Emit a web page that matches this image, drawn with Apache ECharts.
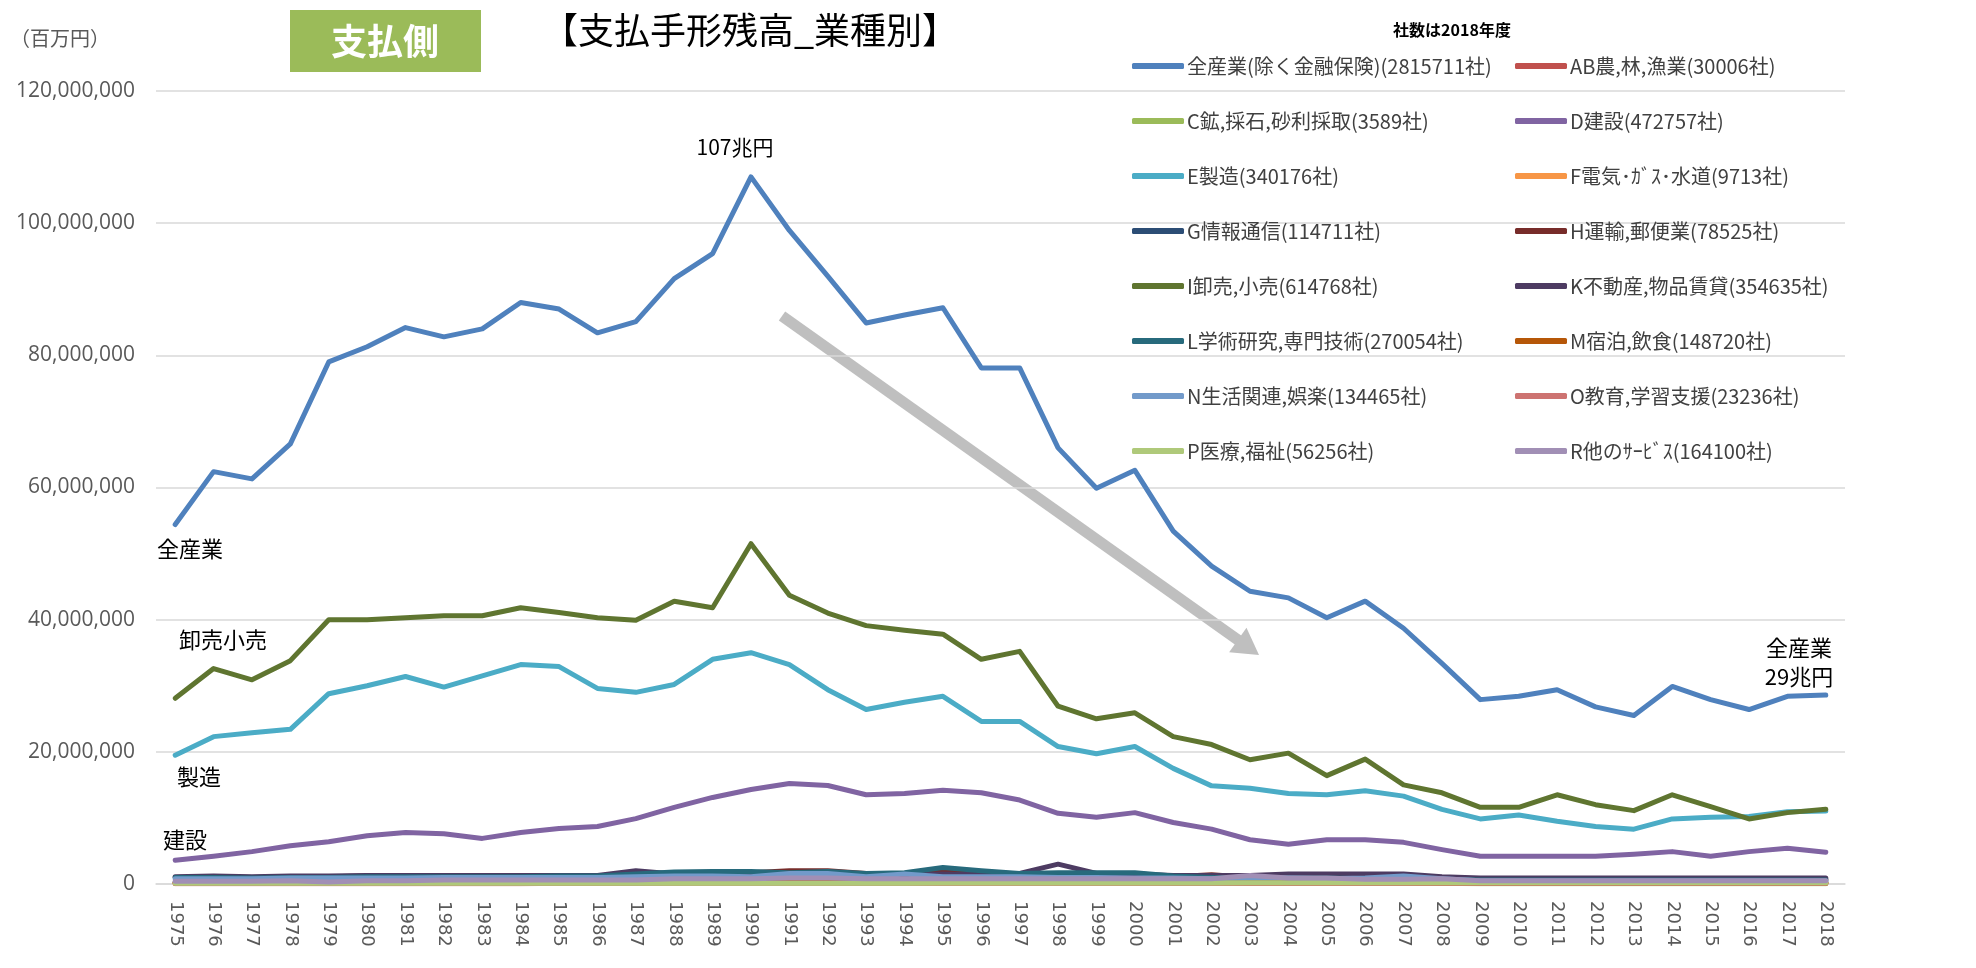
<!DOCTYPE html>
<html>
<head>
<meta charset="utf-8">
<script src="https://cdn.jsdelivr.net/npm/echarts@6/dist/echarts.min.js"></script>
<style>html,body{margin:0;padding:0;background:#fff}#c{width:1976px;height:968px}</style>
</head>
<body>
<div id="c"></div>
<script>
// values in 兆円 (= 1,000,000 百万円); axis is in 百万円
const UNIT = 1000000;
const years = ['1975','1976','1977','1978','1979','1980','1981','1982','1983','1984','1985','1986','1987','1988','1989','1990','1991','1992','1993','1994','1995','1996','1997','1998','1999','2000','2001','2002','2003','2004','2005','2006','2007','2008','2009','2010','2011','2012','2013','2014','2015','2016','2017','2018'];
const yTicks = [0, 20000000, 40000000, 60000000, 80000000, 100000000, 120000000];

const sAll = [54.4,62.4,61.3,66.6,79.0,81.3,84.2,82.8,84.0,88.0,87.0,83.4,85.1,91.6,95.4,107.0,98.9,92.0,84.9,86.1,87.2,78.1,78.1,66.0,59.9,62.6,53.4,48.1,44.3,43.3,40.3,42.8,38.7,33.4,27.9,28.4,29.4,26.8,25.5,29.9,27.9,26.4,28.4,28.6];
const sAB  = [0.2,0.2,0.2,0.2,0.2,0.2,0.2,0.2,0.2,0.2,0.2,0.2,0.2,0.25,0.25,0.25,0.3,0.3,0.25,0.25,0.25,0.25,0.25,0.2,0.2,0.2,0.2,0.2,0.2,0.15,0.15,0.15,0.15,0.15,0.1,0.1,0.1,0.1,0.1,0.1,0.1,0.1,0.1,0.1];
const sC   = [0.1,0.1,0.1,0.1,0.1,0.1,0.1,0.1,0.1,0.1,0.1,0.1,0.1,0.15,0.15,0.15,0.15,0.15,0.1,0.1,0.1,0.1,0.1,0.1,0.1,0.1,0.1,0.1,0.1,0.1,0.1,0.1,0.1,0.1,0.05,0.05,0.05,0.05,0.05,0.05,0.05,0.05,0.05,0.05];
const sD   = [3.6,4.2,4.9,5.8,6.4,7.3,7.8,7.6,6.9,7.8,8.4,8.7,9.9,11.6,13.1,14.3,15.2,14.9,13.5,13.7,14.2,13.8,12.7,10.7,10.1,10.8,9.3,8.3,6.7,6.0,6.7,6.7,6.3,5.2,4.2,4.2,4.2,4.2,4.5,4.9,4.2,4.9,5.4,4.8];
const sE   = [19.5,22.3,22.9,23.4,28.8,30.0,31.4,29.8,31.5,33.2,32.9,29.6,29.0,30.2,34.0,35.0,33.2,29.4,26.4,27.5,28.4,24.6,24.6,20.8,19.7,20.8,17.5,14.85,14.5,13.7,13.5,14.1,13.3,11.3,9.85,10.45,9.5,8.7,8.3,9.85,10.1,10.2,10.95,11.05];
const sF   = [0.15,0.15,0.15,0.15,0.15,0.15,0.15,0.15,0.15,0.15,0.15,0.15,0.2,0.2,0.2,0.2,0.2,0.2,0.2,0.2,0.2,0.2,0.2,0.2,0.2,0.2,0.2,0.2,0.2,0.2,0.2,0.2,0.2,0.2,0.15,0.15,0.15,0.15,0.15,0.15,0.15,0.15,0.15,0.15];
const sG   = [0.3,0.3,0.3,0.35,0.35,0.4,0.4,0.4,0.45,0.45,0.5,0.5,0.55,0.6,0.65,0.7,0.7,0.7,0.65,0.65,0.65,0.6,0.6,0.6,0.55,0.6,0.55,0.5,0.5,0.5,0.5,0.5,0.45,0.4,0.35,0.35,0.35,0.35,0.35,0.35,0.35,0.35,0.35,0.35];
const sH   = [1.0,1.1,1.0,1.1,1.1,1.2,1.2,1.2,1.3,1.2,1.2,1.2,1.4,1.5,1.6,1.7,2.0,2.0,1.6,1.6,1.8,1.5,1.4,1.6,1.3,1.3,1.1,1.4,1.0,0.9,0.9,0.9,0.9,0.8,0.7,0.7,0.7,0.7,0.7,0.7,0.7,0.7,0.7,0.7];
const sI   = [28.1,32.6,30.9,33.8,40.0,40.0,40.3,40.6,40.6,41.8,41.1,40.3,39.9,42.8,41.8,51.5,43.7,41.0,39.1,38.4,37.8,34.0,35.2,26.9,25.0,25.9,22.3,21.1,18.8,19.8,16.4,18.9,15.0,13.8,11.6,11.6,13.5,12.0,11.1,13.5,11.7,9.85,10.8,11.3];
const sK   = [1.1,1.2,1.1,1.2,1.2,1.3,1.3,1.3,1.3,1.3,1.3,1.3,2.0,1.5,1.4,1.4,1.5,1.5,1.4,1.4,1.5,1.4,1.6,3.0,1.6,1.5,1.3,1.3,1.3,1.5,1.5,1.5,1.5,1.1,0.9,0.9,0.9,0.9,0.9,0.9,0.9,0.9,0.9,0.9];
const sL   = [1.0,1.0,0.9,1.0,1.0,1.1,1.1,1.1,1.1,1.1,1.2,1.2,1.5,1.8,1.9,1.9,1.7,1.9,1.6,1.7,2.5,2.0,1.6,1.7,1.7,1.7,1.2,1.0,0.9,0.9,0.9,0.8,0.8,0.7,0.6,0.6,0.6,0.6,0.6,0.6,0.6,0.6,0.6,0.6];
const sM   = [0.15,0.15,0.15,0.15,0.15,0.2,0.2,0.2,0.2,0.2,0.2,0.2,0.25,0.35,0.35,0.3,0.4,0.35,0.3,0.3,0.3,0.3,0.3,0.25,0.25,0.25,0.2,0.2,0.2,0.2,0.2,0.2,0.2,0.15,0.15,0.15,0.15,0.15,0.15,0.15,0.15,0.15,0.15,0.15];
const sN   = [0.8,0.8,0.8,0.9,0.9,0.9,0.9,1.0,1.0,1.0,1.0,1.0,1.1,1.2,1.2,1.1,1.6,1.6,1.1,1.5,1.1,1.1,1.1,1.0,1.0,0.9,0.9,0.8,0.9,0.9,0.8,0.9,1.2,0.8,0.5,0.5,0.5,0.5,0.5,0.5,0.5,0.5,0.5,0.5];
const sO   = [0.05,0.05,0.05,0.05,0.05,0.05,0.05,0.05,0.05,0.05,0.1,0.1,0.1,0.1,0.1,0.1,0.1,0.1,0.1,0.1,0.1,0.1,0.1,0.1,0.1,0.1,0.1,0.1,0.1,0.1,0.1,0.1,0.1,0.1,0.1,0.1,0.1,0.1,0.1,0.1,0.1,0.1,0.1,0.1];
const sP   = [0.1,0.1,0.1,0.1,0.1,0.1,0.1,0.1,0.1,0.1,0.1,0.1,0.1,0.1,0.1,0.1,0.1,0.1,0.1,0.1,0.15,0.15,0.15,0.15,0.15,0.15,0.15,0.15,0.2,0.2,0.2,0.2,0.2,0.2,0.2,0.2,0.2,0.2,0.2,0.2,0.2,0.2,0.2,0.2];
const sR   = [0.4,0.4,0.4,0.5,0.3,0.5,0.5,0.6,0.6,0.6,0.6,0.6,0.6,0.8,0.8,0.8,0.9,0.9,0.8,0.8,0.8,0.8,0.8,0.8,0.8,0.8,0.8,0.8,1.3,0.9,0.9,0.7,0.7,0.8,0.5,0.5,0.5,0.5,0.5,0.5,0.5,0.5,0.5,0.5];

const seriesNames = ['全産業(除く金融保険)(2815711社)','AB農,林,漁業(30006社)','C鉱,採石,砂利採取(3589社)','D建設(472757社)','E製造(340176社)','F電気･ｶﾞｽ･水道(9713社)','G情報通信(114711社)','H運輸,郵便業(78525社)','I卸売,小売(614768社)','K不動産,物品賃貸(354635社)','L学術研究,専門技術(270054社)','M宿泊,飲食(148720社)','N生活関連,娯楽(134465社)','O教育,学習支援(23236社)','P医療,福祉(56256社)','R他のｻｰﾋﾞｽ(164100社)'];
const seriesData = [sAll,sAB,sC,sD,sE,sF,sG,sH,sI,sK,sL,sM,sN,sO,sP,sR];
const colors = ['#4F81BD','#C0504D','#9BBB59','#8064A2','#4BACC6','#F79646','#2C4D75','#772C2A','#5F7530','#4D3B62','#276A7C','#B65708','#729ACA','#CD7371','#AFC97A','#A18FB5'];

const chart = echarts.init(document.getElementById('c'), null, {renderer: 'canvas'});
const CJK = '"Noto Sans CJK JP", "Noto Sans", sans-serif';

const series = seriesData.map((d, i) => ({
  name: seriesNames[i], type: 'line', data: d.map(v => v * UNIT),
  showSymbol: false, symbol: 'none', smooth: false,
  lineStyle: {width: 5, color: colors[i], cap: 'round', join: 'round'},
  itemStyle: {color: colors[i]}, emphasis: {disabled: true}, animation: false
}));

const legendCommon = {
  orient: 'vertical', itemWidth: 52, itemHeight: 6, itemGap: 35, icon: 'roundRect',
  textStyle: {fontFamily: CJK, fontSize: 20, color: '#404040', lineHeight: 20, padding: [0,0,0,-2]},
  selectedMode: false, padding: 0
};

// arrow geometry
const ax0 = 782, ay0 = 316, ax1 = 1259, ay1 = 655;
const dx = ax1 - ax0, dy = ay1 - ay0, L = Math.hypot(dx, dy), ux = dx / L, uy = dy / L, px = -uy, py = ux;
const headLen = 26, headHalf = 15;
const bx = ax1 - ux * headLen, by = ay1 - uy * headLen;

const textStyle = (t, x, y, size, extra) => Object.assign({
  type: 'text', x: x, y: y,
  style: {text: t, font: size + 'px ' + CJK, fill: '#000', textAlign: 'center', textVerticalAlign: 'middle'}
}, extra || {});

chart.setOption({
  animation: false,
  backgroundColor: '#ffffff',
  color: colors,
  grid: {left: 156, right: 131, top: 91, bottom: 84, containLabel: false},
  xAxis: {
    type: 'category', data: years, boundaryGap: true,
    axisLine: {show: true, lineStyle: {color: '#D9D9D9', width: 1.5}},
    axisTick: {show: false},
    axisLabel: {rotate: -90, interval: 0, margin: 17, fontFamily: 'DejaVu Sans', fontSize: 18, color: '#595959'}
  },
  yAxis: {
    type: 'value', min: yTicks[0], max: yTicks[yTicks.length - 1], interval: yTicks[1] - yTicks[0],
    axisLine: {show: false}, axisTick: {show: false},
    splitLine: {lineStyle: {color: '#D9D9D9', width: 1.5}},
    axisLabel: {margin: 21, fontFamily: 'Open Sans', fontSize: 21, color: '#595959',
      formatter: v => v.toLocaleString('en-US')}
  },
  legend: [
    Object.assign({}, legendCommon, {left: 1132, top: 56, data: seriesNames.filter((n, i) => i % 2 === 0)}),
    Object.assign({}, legendCommon, {left: 1515, top: 56, data: seriesNames.filter((n, i) => i % 2 === 1)})
  ],
  graphic: [
    {type: 'text', x: 10, y: 38, style: {text: '（百万円）', font: '20px ' + CJK, fill: '#595959', textVerticalAlign: 'middle'}},
    {type: 'rect', shape: {x: 290, y: 10, width: 191, height: 62}, style: {fill: '#9BBB59'}},
    textStyle('支払側', 385, 41, 36, {style: {text: '支払側', font: 'bold 36px ' + CJK, fill: '#fff', textAlign: 'center', textVerticalAlign: 'middle'}}),
    textStyle('【支払手形残高_業種別】', 750, 30, 36),
    textStyle('社数は2018年度', 1452, 30, 17, {style: {text: '社数は2018年度', font: 'bold 16px ' + CJK, fill: '#000', textAlign: 'center', textVerticalAlign: 'middle'}}),
    textStyle('107兆円', 735, 147, 21),
    textStyle('全産業', 190, 549, 22),
    textStyle('卸売小売', 223, 640, 22),
    textStyle('製造', 199, 777, 22),
    textStyle('建設', 185, 840, 22),
    textStyle('全産業', 1799, 648, 22),
    textStyle('29兆円', 1799, 677, 22),
    {type: 'line', shape: {x1: ax0, y1: ay0, x2: bx + ux * 2, y2: by + uy * 2}, style: {stroke: '#BFBFBF', lineWidth: 11}},
    {type: 'polygon', shape: {points: [[ax1, ay1], [bx + px * headHalf, by + py * headHalf], [bx - px * headHalf, by - py * headHalf]]}, style: {fill: '#BFBFBF'}}
  ],
  series: series
});
</script>
</body>
</html>
